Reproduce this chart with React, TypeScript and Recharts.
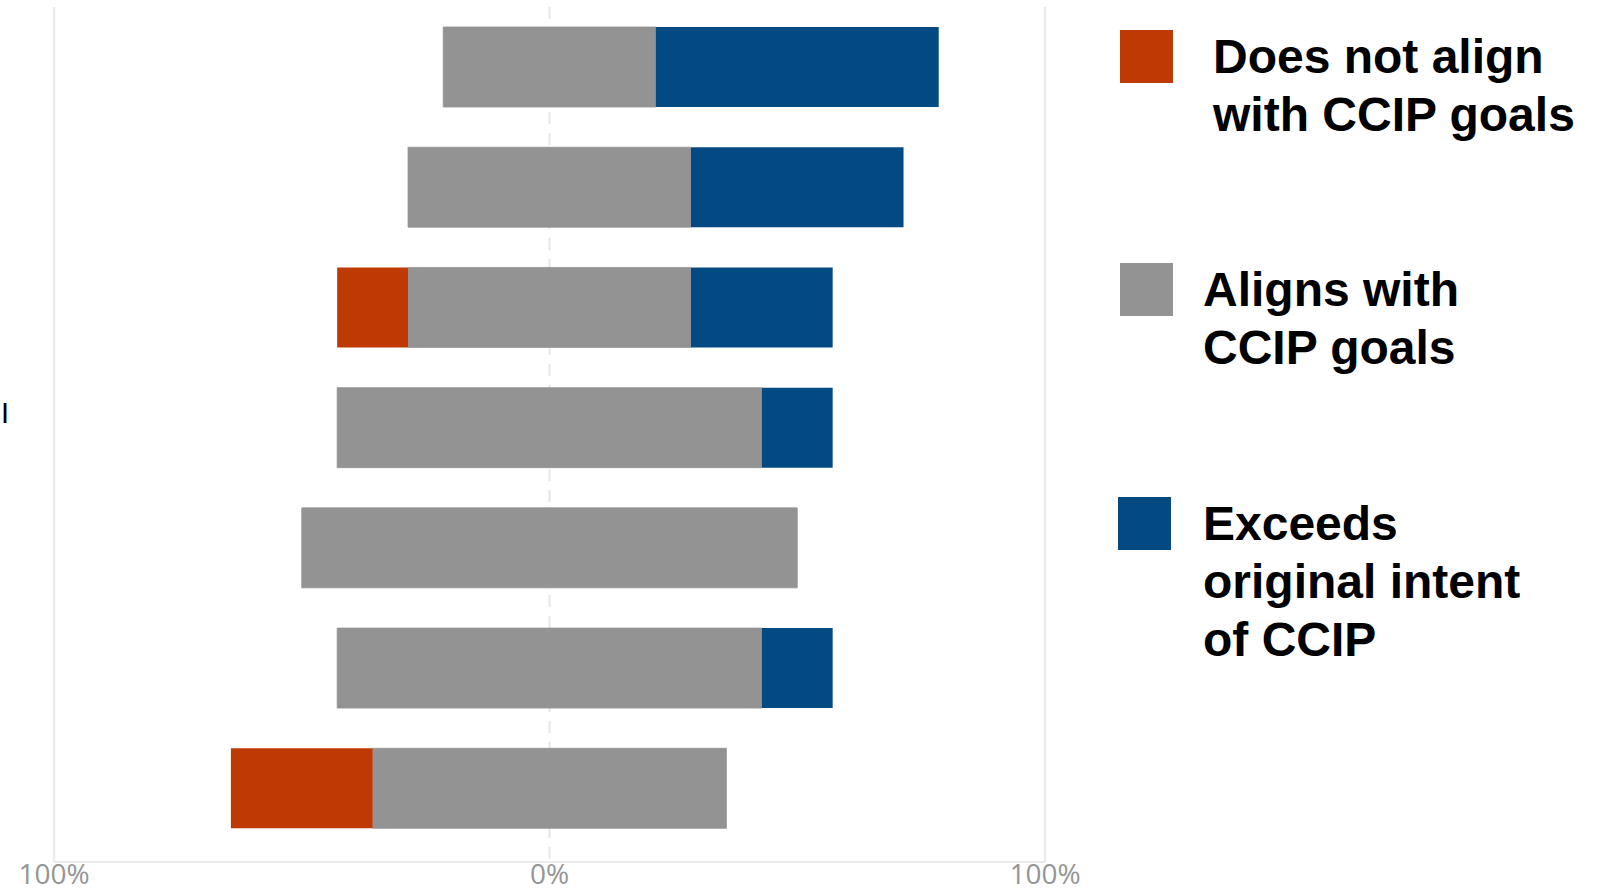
import React from 'react';
import { BarChart, Bar, XAxis, YAxis, ReferenceLine, Legend, CartesianGrid } from 'recharts';

// ---- data (percent of responses) ----
const categories = ['Item 1', 'Item 2', 'Item 3', 'Item 4', 'Item 5', 'Item 6', 'Item 7'];
const doesNotAlign = [0, 0, 14.3, 0, 0, 0, 28.6];
const alignsWith = [42.9, 57.1, 57.1, 85.7, 100, 85.7, 71.4];
const exceedsIntent = [57.1, 42.9, 28.6, 14.3, 0, 14.3, 0];
const xTicks = [-100, 0, 100];
const legendLines = [
  ['Does not align', 'with CCIP goals'],
  ['Aligns with', 'CCIP goals'],
  ['Exceeds', 'original intent', 'of CCIP'],
];

// ---- styles ----
const RED = '#BE3A02';
const GRAY = '#939393';
const BLUE = '#034A83';
const legendColors = [RED, GRAY, BLUE];
const legendSquareLeft = [20, 20, 18];
const legendTextLeft = [113, 103, 103];
const legendTop = [30, 263, 497];

const data = categories.map((c, i) => ({
  category: c,
  alignsLeft: -alignsWith[i] / 2,
  alignsRight: alignsWith[i] / 2,
  notAlign: -doesNotAlign[i],
  exceeds: exceedsIntent[i],
}));

const renderLegend = () => (
  <div style={{ position: 'relative', width: 500, height: 700 }}>
    {legendLines.map((lines, i) => (
      <div key={i}>
        <div
          style={{
            position: 'absolute',
            left: legendSquareLeft[i],
            top: legendTop[i],
            width: 53,
            height: 53,
            background: legendColors[i],
          }}
        />
        <div
          style={{
            position: 'absolute',
            left: legendTextLeft[i],
            top: legendTop[i] - 2,
            fontFamily: '"Liberation Sans", Arial, sans-serif',
            fontWeight: 'bold',
            fontSize: 48,
            lineHeight: '58px',
            color: '#000',
            whiteSpace: 'nowrap',
            textAlign: 'left',
          }}
        >
          {lines.map((l, j) => (
            <div key={j}>{l}</div>
          ))}
        </div>
      </div>
    ))}
  </div>
);

export default function App() {
  return (
    <div style={{ position: 'absolute', left: 0, top: 0, width: 1600, height: 889, background: '#fff' }}>
      <div
        style={{
          position: 'absolute',
          left: 1,
          top: 399,
          fontFamily: '"Liberation Sans", Arial, sans-serif',
          fontSize: 29,
          lineHeight: '29px',
          color: '#000',
        }}
      >
        I
      </div>
      <BarChart
        width={1600}
        height={889}
        data={data}
        layout="vertical"
        stackOffset="sign"
        margin={{ top: 7, right: 555, bottom: 0, left: 54 }}
      >
        <CartesianGrid horizontal={false} stroke="#e6e6e6" strokeWidth={2} strokeDasharray="12 9" />
        <XAxis
          type="number"
          domain={[-100, 100]}
          ticks={xTicks}
          interval={0}
          allowDataOverflow
          tickFormatter={(v: number) => `${Math.abs(v)}%`}
          axisLine={{ stroke: '#e4e4e4', strokeWidth: 1.5 }}
          tickLine={false}
          tickSize={0}
          tickMargin={2}
          height={27}
          tick={{ fill: '#959595', fontSize: 28, fontFamily: '"Open Sans", sans-serif' }}
        />
        <YAxis type="category" dataKey="category" hide padding={{ top: 0, bottom: 13.5 }} />
        <ReferenceLine x={-100} stroke="#ececec" strokeWidth={2.5} />
        <ReferenceLine x={100} stroke="#ececec" strokeWidth={2.5} />
        <Legend
          layout="vertical"
          align="center"
          verticalAlign="middle"
          content={renderLegend}
          wrapperStyle={{ left: 1100, top: 0, width: 500, height: 700 }}
        />
        <Bar dataKey="alignsLeft" stackId="a" fill={GRAY} stroke={GRAY} strokeWidth={0.8} barSize={80} isAnimationActive={false} />
        <Bar dataKey="alignsRight" stackId="a" fill={GRAY} stroke={GRAY} strokeWidth={0.8} barSize={80} isAnimationActive={false} />
        <Bar dataKey="notAlign" stackId="a" fill={RED} barSize={80} isAnimationActive={false} />
        <Bar dataKey="exceeds" stackId="a" fill={BLUE} barSize={80} isAnimationActive={false} />
      </BarChart>
    </div>
  );
}
